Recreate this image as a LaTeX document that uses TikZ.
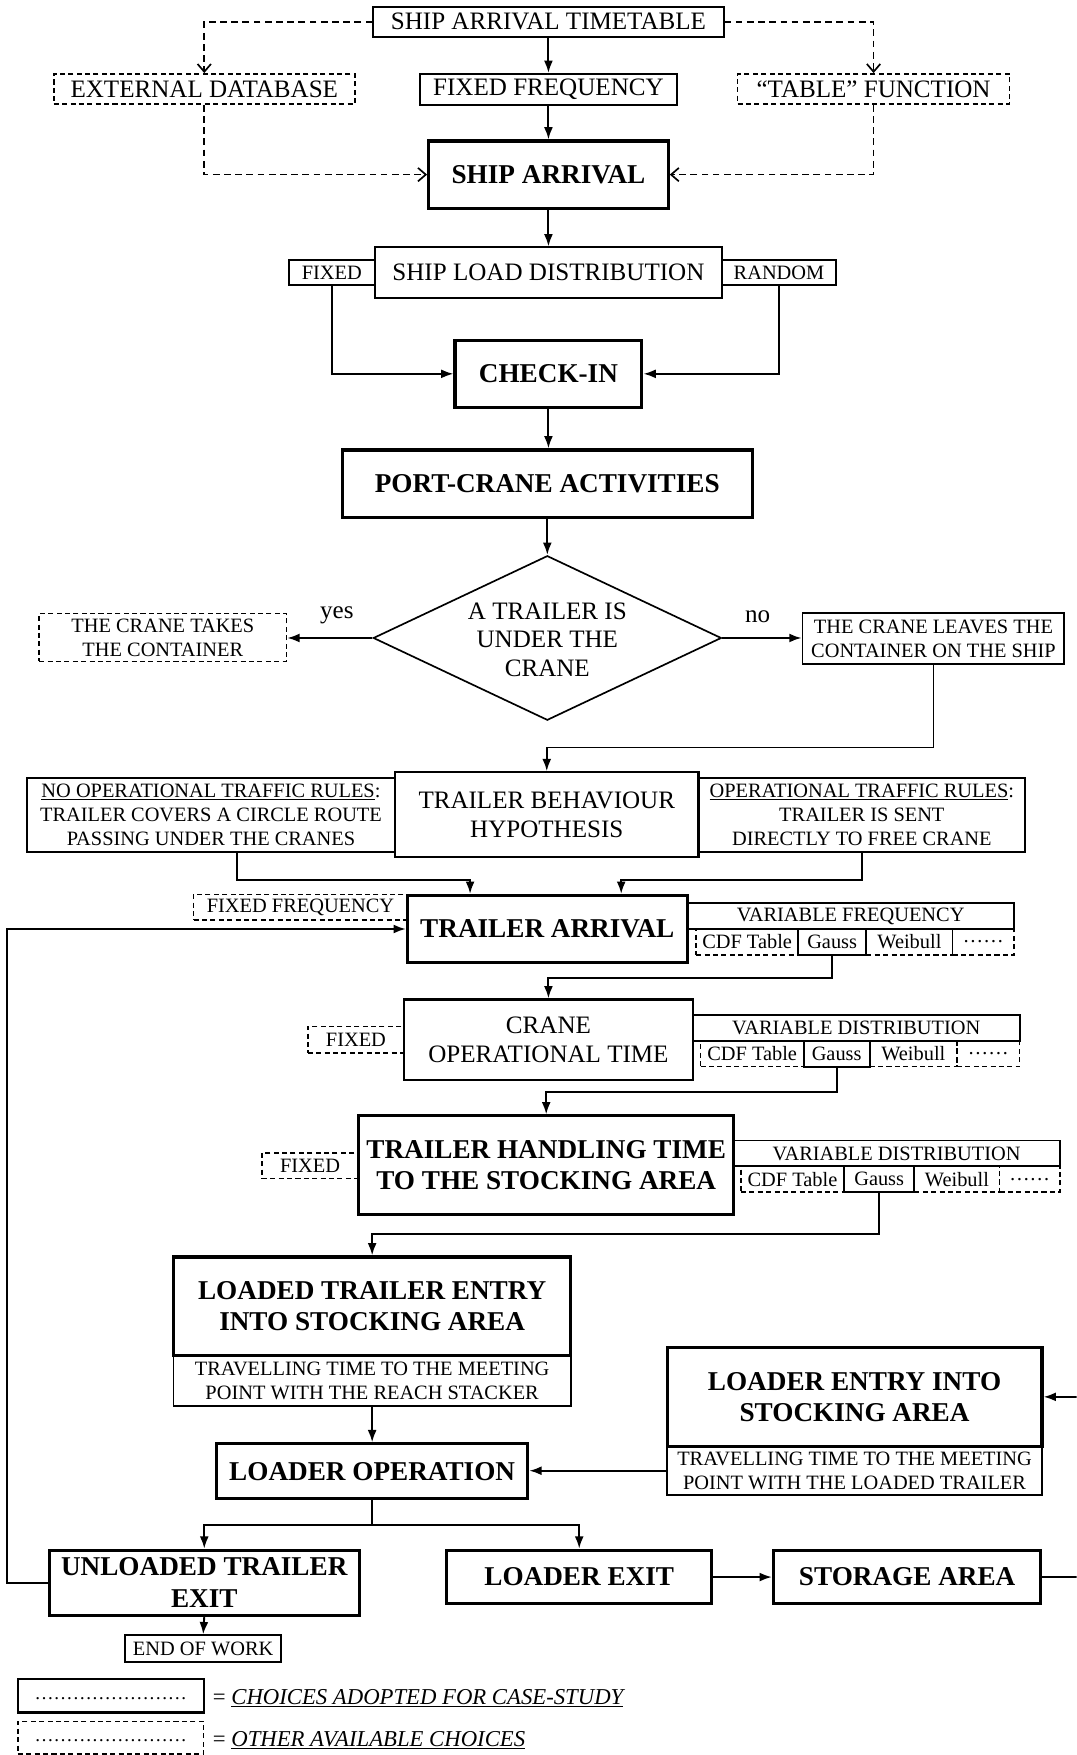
\documentclass[tikz,border=0pt]{standalone}
\usepackage{fontspec}
\setmainfont{Liberation Serif}
\usetikzlibrary{arrows.meta,shapes.geometric,calc}
\newcommand\myR{\fontsize{22.4pt}{25.5pt}\selectfont}
\newcommand\myS{\fontsize{18.2pt}{21.5pt}\selectfont}
\newcommand\myB{\fontsize{24.3pt}{28pt}\selectfont\bfseries}
\newcommand\myL{\fontsize{20.3pt}{24pt}\selectfont}
\newcommand\myD{\fontsize{17pt}{20pt}\selectfont}
\tikzset{
  bx/.style={draw, line width=1.7pt, inner sep=0pt, align=center, font=\myR},
  tbx/.style={bx, line width=2.8pt, font=\myB},
  dbx/.style={bx, dash pattern=on 4.5pt off 3pt, line width=1.4pt},
  sm/.style={font=\myS},
  arr/.style={line width=1.7pt, -{Latex[length=11pt,width=8pt]}},
  darr/.style={line width=1.5pt, dash pattern=on 6pt off 4pt, -{Straight Barb[length=7pt,width=12pt]}},
}
\begin{document}
\begin{tikzpicture}[x=1pt,y=-1pt]
\clip (0,0) rectangle (962,1568);
\fill[white] (0,0) rectangle (962,1568);

% top row
\node[bx, minimum width=313pt, minimum height=27pt] (tt) at (490,19.5) {SHIP ARRIVAL TIMETABLE};
\node[dbx, minimum width=269pt, minimum height=27pt] (ext) at (182.5,79.5) {EXTERNAL DATABASE};
\node[bx, minimum width=229pt, minimum height=28pt] (ff) at (490,80) {FIXED FREQUENCY};
\node[dbx, minimum width=243pt, minimum height=27pt] (tab) at (780.5,79.5) {“TABLE” FUNCTION};
\node[tbx, minimum width=214pt, minimum height=60pt] (sa) at (490,156) {SHIP ARRIVAL};

\draw[darr] (tt.west) -| (ext.north);
\draw[darr] (tt.east) -| (tab.north);
\draw[arr] (tt.south) -- (ff.north);
\draw[arr] (ff.south) -- (sa.north);
\draw[darr] (ext.south) |- (sa.west);
\draw[darr] (tab.south) |- (sa.east);

% ship load
\node[bx, minimum width=310pt, minimum height=45pt] (sld) at (490,243.5) {SHIP LOAD DISTRIBUTION};
\node[bx, sm, minimum width=77pt, minimum height=23pt] (fixed) at (296.5,243.5) {FIXED};
\node[bx, sm, minimum width=102pt, minimum height=23pt] (random) at (696,243.5) {RANDOM};
\node[tbx, minimum width=167pt, minimum height=60pt] (ci) at (490,334) {CHECK-IN};
\node[tbx, minimum width=366pt, minimum height=60pt] (pc) at (489,432) {PORT-CRANE ACTIVITIES};

\draw[arr] (sa.south) -- (sld.north);
\draw[arr] (fixed.south) |- (ci.west);
\draw[arr] (random.south) |- (ci.east);
\draw[arr] (ci.south) -- (ci.south |- pc.north);

% decision
\node[diamond, draw, line width=1.5pt, minimum width=311pt, minimum height=147pt, inner sep=0pt] (dia) at (489,570) {};
\node[align=center, font=\myR, inner sep=0pt] (diat) at (489,571.5) {A TRAILER IS\\UNDER THE\\CRANE};
\draw[arr] (pc.south) -- (dia.north);

\node[dbx, sm, minimum width=221pt, minimum height=43pt] (take) at (145.5,569.5) {THE CRANE TAKES\\THE CONTAINER};
\node[bx, sm, minimum width=234pt, minimum height=45pt] (leave) at (834,570.5) {THE CRANE LEAVES THE\\CONTAINER ON THE SHIP};
\draw[arr] (dia.west) -- (dia.west -| take.east);
\draw[arr] (dia.east) -- (dia.east -| leave.west);
\node[font=\myR, inner sep=0pt] (yes) at (301,550) {yes};
\node[font=\myR, inner sep=0pt] (no) at (677,551) {no};

% trailer behaviour
\node[bx, line width=2pt, minimum width=271pt, minimum height=76pt] (tbh) at (488.5,728) {TRAILER BEHAVIOUR\\HYPOTHESIS};
\node[bx, sm, minimum width=329pt, minimum height=66pt] (norules) at (188.5,728) {\underline{NO OPERATIONAL TRAFFIC RULES}:\\TRAILER COVERS A CIRCLE ROUTE\\PASSING UNDER THE CRANES};
\node[bx, sm, minimum width=292pt, minimum height=66pt] (rules) at (770,728) {\underline{OPERATIONAL TRAFFIC RULES}:\\TRAILER IS SENT\\DIRECTLY TO FREE CRANE};
\draw[arr] (leave.south) -- ++(0,74) -| (tbh.north);

% trailer arrival
\node[tbx, minimum width=250pt, minimum height=60pt] (ta) at (489,830) {TRAILER ARRIVAL};
\node[dbx, sm, minimum width=191pt, minimum height=23pt] (tafix) at (268.5,810.5) {FIXED FREQUENCY};
\node[bx, sm, minimum width=292pt, minimum height=23pt] (vf) at (760,818.5) {VARIABLE FREQUENCY};
\node[dbx, sm, minimum width=91pt, minimum height=23pt] (cdf1) at (667.5,841.5) {CDF Table};
\node[dbx, sm, minimum width=77pt, minimum height=23pt] (weib1) at (812.5,841.5) {Weibull};
\node[dbx, sm, minimum width=55pt, minimum height=23pt] (dots1) at (878.5,841.5) {……};
\node[bx, sm, minimum width=61pt, minimum height=23pt] (gauss1) at (743.5,841.5) {Gauss};
\draw[arr] ([xshift=23.5pt]norules.south) -- ++(0,24) -| ([xshift=-69pt]ta.north);
\draw[arr] (rules.south) -- ++(0,24) -| ([xshift=66pt]ta.north);

% crane operational time
\node[bx, line width=2pt, minimum width=258pt, minimum height=72pt] (cot) at (490,929) {CRANE\\OPERATIONAL TIME};
\node[dbx, sm, minimum width=86pt, minimum height=24pt] (cofix) at (318,929) {FIXED};
\node[bx, sm, minimum width=292pt, minimum height=23pt] (vd1) at (765,918.5) {VARIABLE DISTRIBUTION};
\node[dbx, sm, minimum width=92pt, minimum height=23pt] (cdf2) at (672,941.5) {CDF Table};
\node[dbx, sm, minimum width=78pt, minimum height=23pt] (weib2) at (816,941.5) {Weibull};
\node[dbx, sm, minimum width=56pt, minimum height=23pt] (dots2) at (883,941.5) {……};
\node[bx, sm, minimum width=59pt, minimum height=23pt] (gauss2) at (747.5,941.5) {Gauss};
\draw[arr] (gauss1.south) -- ++(0,20) -| (cot.north);

% trailer handling
\node[tbx, minimum width=335pt, minimum height=88pt] (tht) at (488,1041) {TRAILER HANDLING TIME\\TO THE STOCKING AREA};
\node[dbx, sm, minimum width=86pt, minimum height=23pt] (thfix) at (277,1041.5) {FIXED};
\node[bx, sm, minimum width=292pt, minimum height=23pt] (vd2) at (801,1030.5) {VARIABLE DISTRIBUTION};
\node[dbx, sm, minimum width=92pt, minimum height=23pt] (cdf3) at (708,1053.5) {CDF Table};
\node[dbx, sm, minimum width=76pt, minimum height=23pt] (weib3) at (855,1053.5) {Weibull};
\node[dbx, sm, minimum width=54pt, minimum height=23pt] (dots3) at (920,1053.5) {……};
\node[bx, sm, minimum width=63pt, minimum height=23pt] (gauss3) at (785.5,1053.5) {Gauss};
\draw[arr] (gauss2.south) -- ++(0,22) -| (tht.north);

% stocking area
\node[tbx, minimum width=355pt, minimum height=88pt] (lte) at (332.5,1167) {LOADED TRAILER ENTRY\\INTO STOCKING AREA};
\node[bx, sm, minimum width=355pt, minimum height=45pt] (ltt) at (332.5,1233.5) {TRAVELLING TIME TO THE MEETING\\POINT WITH THE REACH STACKER};
\draw[arr] (gauss3.south) -- ++(0,37) -| (lte.north);

\node[tbx, minimum width=278pt, minimum height=49pt] (lop) at (332.5,1314.5) {LOADER OPERATION};
\draw[arr] (ltt.south) -- (lop.north);

\node[tbx, minimum width=335pt, minimum height=88pt] (le) at (763.5,1248) {LOADER ENTRY INTO\\STOCKING AREA};
\node[bx, sm, minimum width=335pt, minimum height=44pt] (let) at (763.5,1314) {TRAVELLING TIME TO THE MEETING\\POINT WITH THE LOADED TRAILER};
\draw[arr] (let.west) -- (let.west -| lop.east);

% exits
\node[tbx, minimum width=277pt, minimum height=58pt] (ute) at (182.5,1414) {UNLOADED TRAILER\\EXIT};
\node[tbx, minimum width=237pt, minimum height=48pt] (lex) at (517.5,1409) {LOADER EXIT};
\node[tbx, minimum width=239pt, minimum height=48pt] (sto) at (810.5,1409) {STORAGE AREA};
\node[bx, sm, minimum width=139pt, minimum height=24pt] (eow) at (181.5,1473) {END OF WORK};

\draw[arr] (lop.south) -- ++(0,22) -| (ute.north);
\draw[arr] (lop.south) -- ++(0,22) -| (lex.north);
\draw[arr] (lex.east) -- (sto.west);
\draw[arr] (sto.east) -- ++(40,0) |- (le.east);
\draw[arr] (ute.west) -- ++(-36,0) |- (ta.west);
\draw[arr] (ute.south) -- (eow.north);

% legend
\node[bx, line width=2pt, minimum width=166pt, minimum height=30pt] (leg1) at (99,1515) {\raisebox{-7pt}{\myD……………………}};
\node[dbx, minimum width=166pt, minimum height=29pt] (leg2) at (99,1552.5) {\raisebox{-7pt}{\myD……………………}};
\node[anchor=west, font=\myL, inner sep=0pt] (legt1) at (190,1517) {= \underline{\itshape CHOICES ADOPTED FOR CASE-STUDY}};
\node[anchor=west, font=\myL, inner sep=0pt] (legt2) at (190,1555) {= \underline{\itshape OTHER AVAILABLE CHOICES}};
\end{tikzpicture}
\end{document}
